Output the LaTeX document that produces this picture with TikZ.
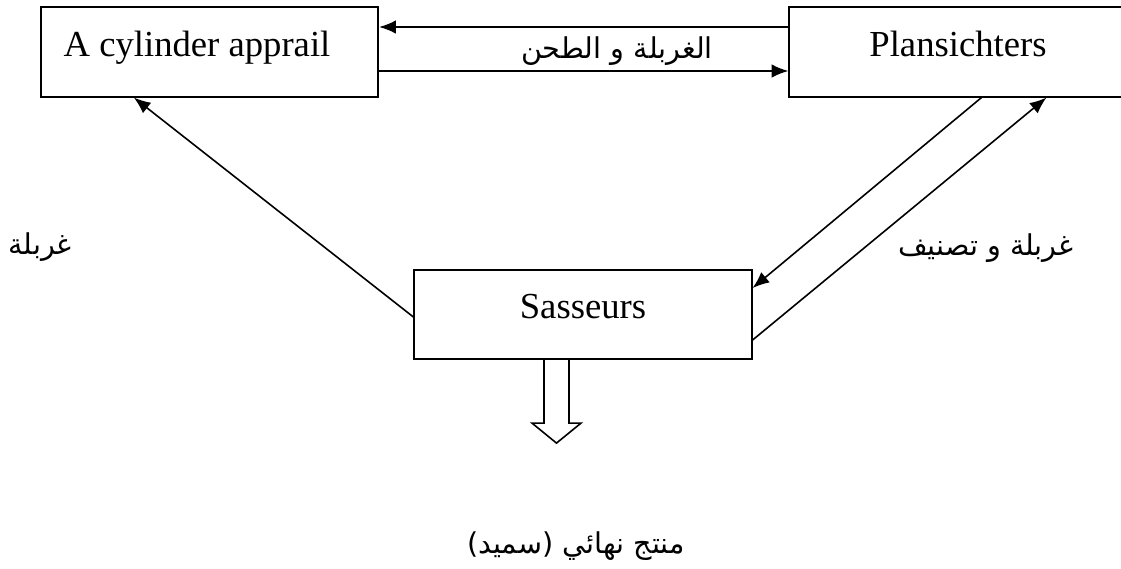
\documentclass[tikz,border=0pt]{standalone}
\usepackage{fontspec}
\setmainfont{Liberation Serif}
\newfontfamily\arabicfont[Script=Arabic]{DejaVu Sans}
\TeXXeTstate=1
\usetikzlibrary{arrows.meta,calc}

\tikzset{
  box/.style={draw, line width=1.4pt, minimum width=253pt, minimum height=67pt,
    text height=17pt, text depth=11pt, inner sep=0pt,
    font=\fontsize{27.5}{30}\selectfont},
  flow/.style={line width=1.2pt, -{Latex[length=12.5pt,width=10pt]}},
  arlbl/.style={font=\arabicfont\fontsize{21.5}{24}\selectfont, inner sep=0pt}
}

\begin{document}
\begin{tikzpicture}[x=0.75pt, y=-0.75pt]

        \useasboundingbox (0,0) rectangle (1121,568);

        % Boxes
        \node[box] (cyl) at (209.5,52) {\kern-18.75pt A cylinder apprail};
        \node[box] (plan) at (958,52) {Plansichters};
        \node[box] (sas) at (583,314.5) {Sasseurs};

        % Arrows between the top boxes
        \draw[flow] ($(plan.west)+(0,-25)$) -- ($(cyl.east)+(0,-25)$);
        \draw[flow] ($(cyl.east)+(0,19)$) -- ($(plan.west)+(0,19)$);

        % Arrows to and from Sasseurs
        \draw[flow] ($(sas.west)+(0,2.5)$) -- ($(cyl.south west)+(94,0)$);
        \draw[flow] ($(plan.south west)+(193,0)$) -- ($(sas.east)+(0,-26.5)$);
        \draw[flow] ($(sas.east)+(0,25.5)$) -- ($(plan.south west)+(258,0)$);

        % Output arrow
        \draw[line width=1.2pt] ($(sas.south)+(-39,0)$) -- ++(0,63) -- ++(-12,0)
            -- ++(24.5,20) -- ++(24.5,-20) -- ++(-12,0) -- ++(0,-63);

        % Labels
        \node[arlbl] (mill) at (617,51) {\beginR الغربلة و الطحن\endR};
        \node[arlbl] (sieve) at (40,247) {\beginR غربلة\endR};
        \node[arlbl] (sort) at (986,248) {\beginR غربلة و تصنيف\endR};
        \node[arlbl] (prod) at (576,546) {\beginR منتج نهائي (سميد)\endR};

\end{tikzpicture}
\end{document}
